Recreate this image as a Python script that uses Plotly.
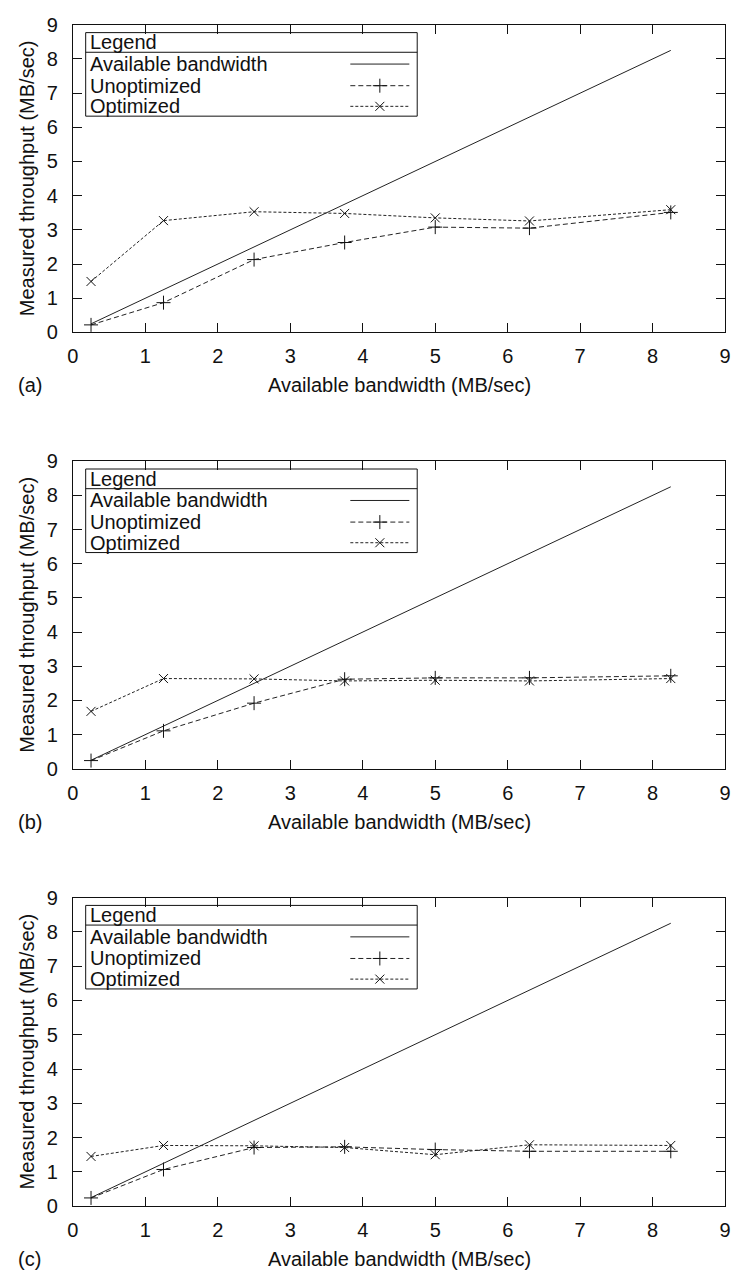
import plotly.graph_objects as go

# ---- data ----
bandwidth = [0.25, 1.25, 2.5, 3.75, 5.0, 6.3, 8.25]
available = [0.25, 1.25, 2.5, 3.75, 5.0, 6.3, 8.25]

a_unoptimized = [0.22, 0.87, 2.13, 2.63, 3.08, 3.05, 3.51]
a_optimized = [1.49, 3.27, 3.53, 3.48, 3.35, 3.26, 3.59]

b_unoptimized = [0.24, 1.11, 1.92, 2.62, 2.66, 2.66, 2.72]
b_optimized = [1.68, 2.64, 2.63, 2.57, 2.59, 2.57, 2.64]

c_unoptimized = [0.24, 1.07, 1.71, 1.73, 1.65, 1.60, 1.60]
c_optimized = [1.45, 1.77, 1.76, 1.71, 1.50, 1.79, 1.77]

panel_labels = ["(a)", "(b)", "(c)"]
legend_labels = ["Available bandwidth", "Unoptimized", "Optimized"]
tick_vals = list(range(0, 10))

# ---- layout geometry (pixels) ----
W, H = 739, 1284
PLOT_L, PLOT_R = 68, 731
panel_px = [(14, 327), (458, 771), (902, 1216)]  # (top, bottom)

FONT = "Liberation Sans, Arial, Helvetica, sans-serif"
INK = "#111111"
LINE = "#222222"

def px_x(x):
    return x / W

def px_y(y):
    return 1 - y / H

fig = go.Figure()
shapes = []
annotations = []

series = [(a_unoptimized, a_optimized), (b_unoptimized, b_optimized), (c_unoptimized, c_optimized)]

layout_axes = {}
for i, ((unopt, opt), (top, bot)) in enumerate(zip(series, panel_px)):
    n = "" if i == 0 else str(i + 1)
    xref, yref = "x" + n, "y" + n
    fig.add_trace(go.Scatter(x=bandwidth, y=available, mode="lines",
                             line=dict(color=LINE, width=1), xaxis=xref, yaxis=yref,
                             showlegend=False, hoverinfo="skip"))
    fig.add_trace(go.Scatter(x=bandwidth, y=unopt, mode="lines+markers",
                             line=dict(color=LINE, width=1, dash="5px,3px"),
                             marker=dict(symbol="cross-thin", size=10, color=INK,
                                         line=dict(width=1, color=INK)),
                             xaxis=xref, yaxis=yref, showlegend=False, hoverinfo="skip"))
    fig.add_trace(go.Scatter(x=bandwidth, y=opt, mode="lines+markers",
                             line=dict(color=LINE, width=1, dash="3px,2px"),
                             marker=dict(symbol="x-thin", size=9, color=INK,
                                         line=dict(width=1, color=INK)),
                             xaxis=xref, yaxis=yref, showlegend=False, hoverinfo="skip"))

    axis_common = dict(range=[0, 9], tickvals=tick_vals, ticks="inside", ticklen=9,
                       tickwidth=1, tickcolor=INK, showline=True, linecolor=INK,
                       linewidth=1, mirror="ticks", showgrid=False, zeroline=False,
                       ticklabeloverflow="allow",
                       tickfont=dict(family=FONT, size=20, color=INK), fixedrange=True)
    layout_axes["xaxis" + n] = dict(axis_common, domain=[px_x(PLOT_L), px_x(PLOT_R)],
                                    anchor=yref, ticklabelstandoff=6)
    layout_axes["yaxis" + n] = dict(axis_common, domain=[px_y(bot), px_y(top)],
                                    anchor=xref, ticklabelstandoff=10)

    # axis titles and panel label
    annotations.append(dict(text="Measured throughput (MB/sec)", x=px_x(21),
                            y=px_y((top + bot) / 2), xref="paper", yref="paper",
                            textangle=-90, showarrow=False, xanchor="center", yanchor="middle",
                            font=dict(family=FONT, size=20, color=INK)))
    annotations.append(dict(text="Available bandwidth (MB/sec)", x=px_x(400),
                            y=px_y(bot + 54), xref="paper", yref="paper", showarrow=False,
                            xanchor="center", yanchor="middle",
                            font=dict(family=FONT, size=20, color=INK)))
    annotations.append(dict(text=panel_labels[i], x=px_x(10), y=px_y(bot + 54),
                            xref="paper", yref="paper", showarrow=False,
                            xanchor="left", yanchor="middle",
                            font=dict(family=FONT, size=20, color=INK)))

    # legend box
    bx0, bx1 = 81, 418
    by0, by1 = top + 8, top + 93
    shapes.append(dict(type="rect", xref="paper", yref="paper",
                       x0=px_x(bx0), x1=px_x(bx1), y0=px_y(by1), y1=px_y(by0),
                       line=dict(color=INK, width=1), fillcolor="white", layer="below"))
    shapes.append(dict(type="line", xref="paper", yref="paper",
                       x0=px_x(bx0), x1=px_x(bx1), y0=px_y(top + 28), y1=px_y(top + 28),
                       line=dict(color=INK, width=1), layer="below"))
    annotations.append(dict(text="Legend", x=px_x(84), y=px_y(top + 18), xref="paper",
                            yref="paper", showarrow=False, xanchor="left", yanchor="middle",
                            borderpad=0, font=dict(family=FONT, size=20, color=INK)))
    row_y = [top + 40, top + 62, top + 83]
    for lbl, ry in zip(legend_labels, row_y):
        annotations.append(dict(text=lbl, x=px_x(84), y=px_y(ry), xref="paper",
                                yref="paper", showarrow=False, xanchor="left",
                                yanchor="middle", borderpad=0,
                                font=dict(family=FONT, size=20, color=INK)))
    # legend samples on an overlay pixel axis
    fig.add_trace(go.Scatter(x=[350, 410], y=[row_y[0], row_y[0]], mode="lines",
                             line=dict(color=LINE, width=1), xaxis="x4", yaxis="y4",
                             showlegend=False, hoverinfo="skip"))
    fig.add_trace(go.Scatter(x=[350, 410], y=[row_y[1], row_y[1]], mode="lines",
                             line=dict(color=LINE, width=1, dash="5px,3px"), xaxis="x4",
                             yaxis="y4", showlegend=False, hoverinfo="skip"))
    fig.add_trace(go.Scatter(x=[380], y=[row_y[1]], mode="markers",
                             marker=dict(symbol="cross-thin", size=10, color=INK,
                                         line=dict(width=1, color=INK)),
                             xaxis="x4", yaxis="y4", showlegend=False, hoverinfo="skip"))
    fig.add_trace(go.Scatter(x=[350, 410], y=[row_y[2], row_y[2]], mode="lines",
                             line=dict(color=LINE, width=1, dash="3px,2px"), xaxis="x4",
                             yaxis="y4", showlegend=False, hoverinfo="skip"))
    fig.add_trace(go.Scatter(x=[380], y=[row_y[2]], mode="markers",
                             marker=dict(symbol="x-thin", size=9, color=INK,
                                         line=dict(width=1, color=INK)),
                             xaxis="x4", yaxis="y4", showlegend=False, hoverinfo="skip"))

layout_axes["xaxis4"] = dict(domain=[0, 1], range=[0, W], visible=False, fixedrange=True,
                             anchor="y4")
layout_axes["yaxis4"] = dict(domain=[0, 1], range=[H, 0], visible=False, fixedrange=True,
                             anchor="x4")

fig.update_layout(width=W, height=H, margin=dict(l=0, r=0, t=0, b=0),
                  paper_bgcolor="white", plot_bgcolor="rgba(0,0,0,0)",
                  shapes=shapes, annotations=annotations, showlegend=False,
                  font=dict(family=FONT, color=INK), **layout_axes)

fig.write_html("out.html", config={"displayModeBar": False},
               post_script="document.body.style.margin='0';document.body.style.padding='0';")
